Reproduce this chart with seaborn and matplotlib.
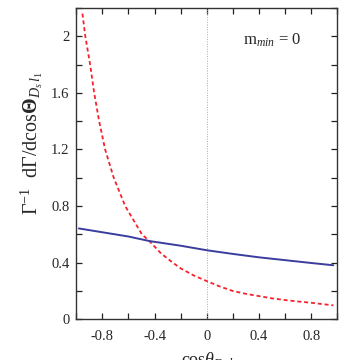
import numpy as np
import matplotlib
matplotlib.use("Agg")
import matplotlib.pyplot as plt
from matplotlib.ticker import MultipleLocator, FuncFormatter
import seaborn as sns
import pandas as pd

# ---- data
cos_blue = [-0.98, -0.8, -0.6, -0.44, -0.2, 0.0, 0.2, 0.4, 0.6, 0.8, 0.97]
dist_blue = [0.642, 0.615, 0.585, 0.553, 0.52, 0.488, 0.462, 0.438, 0.418, 0.398, 0.382]

cos_red = [-0.953, -0.931, -0.894, -0.863, -0.825, -0.779, -0.713, -0.625, -0.497,
           -0.44, -0.35, -0.26, -0.2, -0.1, 0.0, 0.1, 0.2, 0.3, 0.4, 0.5, 0.6,
           0.7, 0.8, 0.9, 0.97]
dist_red = [2.16, 2.0, 1.8, 1.6, 1.4, 1.2, 1.0, 0.8, 0.6,
            0.553, 0.465, 0.40, 0.36, 0.31, 0.27, 0.232, 0.20, 0.18, 0.164, 0.148, 0.136,
            0.126, 0.117, 0.106, 0.099]

label_text = r"m$_{min}$ = 0"

# ---- style
sns.set_style("ticks")
plt.rcParams["font.family"] = ["Liberation Serif", "DejaVu Serif"]
plt.rcParams["mathtext.fontset"] = "custom"
plt.rcParams["mathtext.rm"] = "Liberation Serif"
plt.rcParams["mathtext.it"] = "Liberation Serif:italic"
plt.rcParams["mathtext.bf"] = "Liberation Serif:bold"
plt.rcParams["axes.unicode_minus"] = False

fig = plt.figure(figsize=(3.57, 3.6), dpi=100)
ax = fig.add_axes([0.2137, 0.113, 0.731, 0.865])

df_blue = pd.DataFrame({"x": cos_blue, "y": dist_blue})
df_red = pd.DataFrame({"x": cos_red, "y": dist_red})

ax.axvline(0, color="#aaaaaa", lw=0.7, ls=(0, (1, 1.5)), zorder=1)
sns.lineplot(data=df_blue, x="x", y="y", ax=ax, color="#3b3d9e", lw=1.4, zorder=3)
sns.lineplot(data=df_red, x="x", y="y", ax=ax, color="#f5222c", lw=1.3, zorder=2)
ax.lines[-1].set_dashes([2.2, 1.6])

ax.set_xlim(-1, 1)
ax.set_ylim(0, 2.2)
ax.xaxis.set_major_locator(MultipleLocator(0.4))
ax.xaxis.set_major_formatter(FuncFormatter(lambda v, p: "0" if abs(v) < 1e-9 else f"{v:.1f}"))
ax.xaxis.set_minor_locator(MultipleLocator(0.2))
ax.yaxis.set_major_locator(MultipleLocator(0.4))
ax.yaxis.set_major_formatter(FuncFormatter(lambda v, p: f"{v:g}"))
ax.yaxis.set_minor_locator(MultipleLocator(0.2))

ax.tick_params(which="both", direction="in", top=True, right=True, length=4.5,
               width=0.9, color="#222222", labelsize=10.5, pad=5)
ax.tick_params(axis="x", pad=8)
for s in ax.spines.values():
    s.set_linewidth(1.0)
    s.set_color("#333333")

ax.set_xlabel(r"cos$\theta_{D_s\,l}$", fontsize=13, labelpad=5)
ax.set_ylabel(r"$\Gamma^{-1}$  d$\Gamma$/dcos$\mathbf{\Theta}_{D_s\,l_1}$", fontsize=14.5)
ax.yaxis.set_label_coords(-0.12, 0.566)

ax.text(0.75, 0.895, label_text, transform=ax.transAxes, fontsize=12, ha="center", va="center")

fig.savefig("out.png", dpi=100)
